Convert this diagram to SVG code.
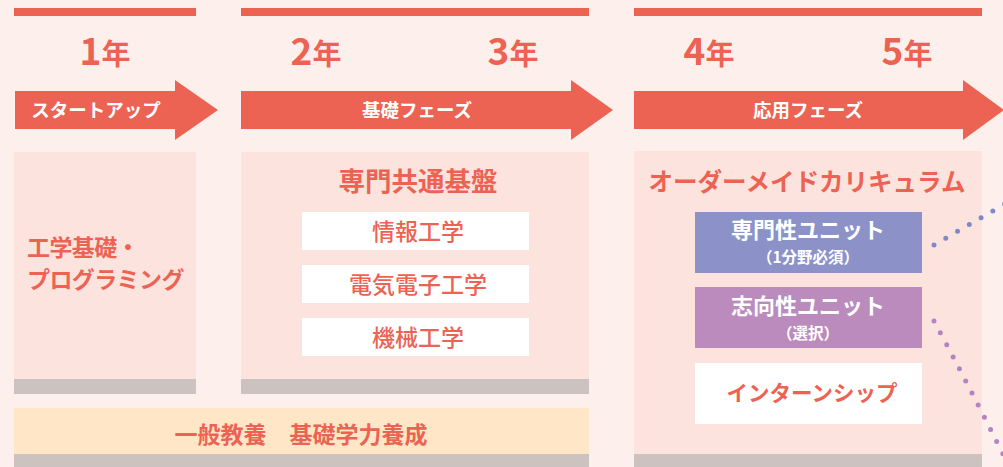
<svg xmlns="http://www.w3.org/2000/svg" width="1003" height="467" viewBox="0 0 1003 467">
<style>
text{font-family:"Noto Sans CJK JP","Noto Sans",sans-serif;}
.red{fill:#EC6354;}
.panel{fill:#FCE3DD;}
.gray{fill:#CCC2C0;}
.year{fill:#EC6354;font-weight:700;text-anchor:middle;}
.yd{font-size:37px;}
.yk{font-size:29px;}
.arrtxt{fill:#FFFFFF;font-weight:700;font-size:18.5px;text-anchor:middle;}
.title{fill:#EC6354;font-weight:700;text-anchor:middle;}
.sub{fill:#EC6354;font-size:23px;font-weight:500;text-anchor:middle;}
.unit{fill:#FFFFFF;font-weight:700;text-anchor:middle;}
.dots{fill:none;stroke-width:5;stroke-linecap:round;stroke-dasharray:0 13.6;}
</style>
<rect width="1003" height="467" fill="#FDF0EC"/>
<g id="timeline">
<rect x="14" y="8" width="182" height="8" class="red"/>
<rect x="241" y="8" width="348" height="8" class="red"/>
<rect x="634" y="8" width="348" height="8" class="red"/>
<text class="year" x="105" y="65"><tspan class="yd">1</tspan><tspan class="yk">年</tspan></text>
<text class="year" x="316" y="65"><tspan class="yd">2</tspan><tspan class="yk">年</tspan></text>
<text class="year" x="513" y="65"><tspan class="yd">3</tspan><tspan class="yk">年</tspan></text>
<text class="year" x="709" y="65"><tspan class="yd">4</tspan><tspan class="yk">年</tspan></text>
<text class="year" x="907" y="65"><tspan class="yd">5</tspan><tspan class="yk">年</tspan></text>
</g>
<g id="arrow-startup">
<polygon class="red" points="15,91 175,91 175,80 218,110 175,140 175,129 15,129"/>
<text class="arrtxt" x="96" y="117">スタートアップ</text>
</g>
<g id="arrow-basic">
<polygon class="red" points="241,91 571,91 571,80 613,110 571,140 571,129 241,129"/>
<text class="arrtxt" x="417" y="117">基礎フェーズ</text>
</g>
<g id="arrow-applied">
<polygon class="red" points="634,91 963,91 963,80 1004,110 963,140 963,129 634,129"/>
<text class="arrtxt" x="808" y="117">応用フェーズ</text>
</g>
<g id="panel-year1">
<rect x="14" y="152" width="182" height="227" class="panel"/>
<rect x="14" y="379" width="182" height="15" class="gray"/>
<text class="title" style="text-anchor:start;letter-spacing:-0.6px" font-size="23" x="27" y="256">工学基礎・</text>
<text class="title" style="text-anchor:start;letter-spacing:-0.6px" font-size="23" x="27" y="288">プログラミング</text>
</g>
<g id="panel-common">
<rect x="241" y="152" width="348" height="227" class="panel"/>
<rect x="241" y="379" width="348" height="15" class="gray"/>
<text class="title" font-size="26.5" x="418" y="191">専門共通基盤</text>
</g>
<g id="node-info">
<rect x="302" y="212" width="227" height="38" fill="#FFFFFF"/>
<text class="sub" x="418" y="240">情報工学</text>
</g>
<g id="node-elec">
<rect x="302" y="265" width="227" height="38" fill="#FFFFFF"/>
<text class="sub" x="418" y="293">電気電子工学</text>
</g>
<g id="node-mech">
<rect x="302" y="318" width="227" height="38" fill="#FFFFFF"/>
<text class="sub" x="418" y="346">機械工学</text>
</g>
<g id="panel-ordermade">
<rect x="634" y="151" width="348" height="303" class="panel"/>
<rect x="634" y="454" width="348" height="13" class="gray"/>
<text class="title" font-size="24.5" x="807" y="191">オーダーメイドカリキュラム</text>
</g>
<g id="node-specialty">
<rect x="695" y="212" width="227" height="61" fill="#8C92C7"/>
<text class="unit" font-size="22" x="808" y="238">専門性ユニット</text>
<text class="unit" font-size="15.5" x="808" y="263">（1分野必須）</text>
</g>
<g id="node-orientation">
<rect x="695" y="287" width="227" height="61" fill="#BB8BBD"/>
<text class="unit" font-size="22" x="808" y="314">志向性ユニット</text>
<text class="unit" font-size="15.5" x="808" y="339">（選択）</text>
</g>
<g id="node-intern">
<rect x="695" y="363" width="227" height="61" fill="#FFFFFF"/>
<text class="title" font-size="21.5" x="812" y="401">インターンシップ</text>
</g>
<g id="band-general">
<rect x="14" y="408" width="575" height="46" fill="#FEE6C7"/>
<rect x="14" y="454" width="575" height="13" class="gray"/>
<text class="title" font-size="23" x="301" y="443">一般教養　基礎学力養成</text>
</g>
<g id="connectors">
<path class="dots" stroke="#7F89C8" d="M934,245 L1016,197.5"/>
<path class="dots" stroke="#B583C1" d="M934,321 Q968,384 1007,462"/>
</g>
</svg>
